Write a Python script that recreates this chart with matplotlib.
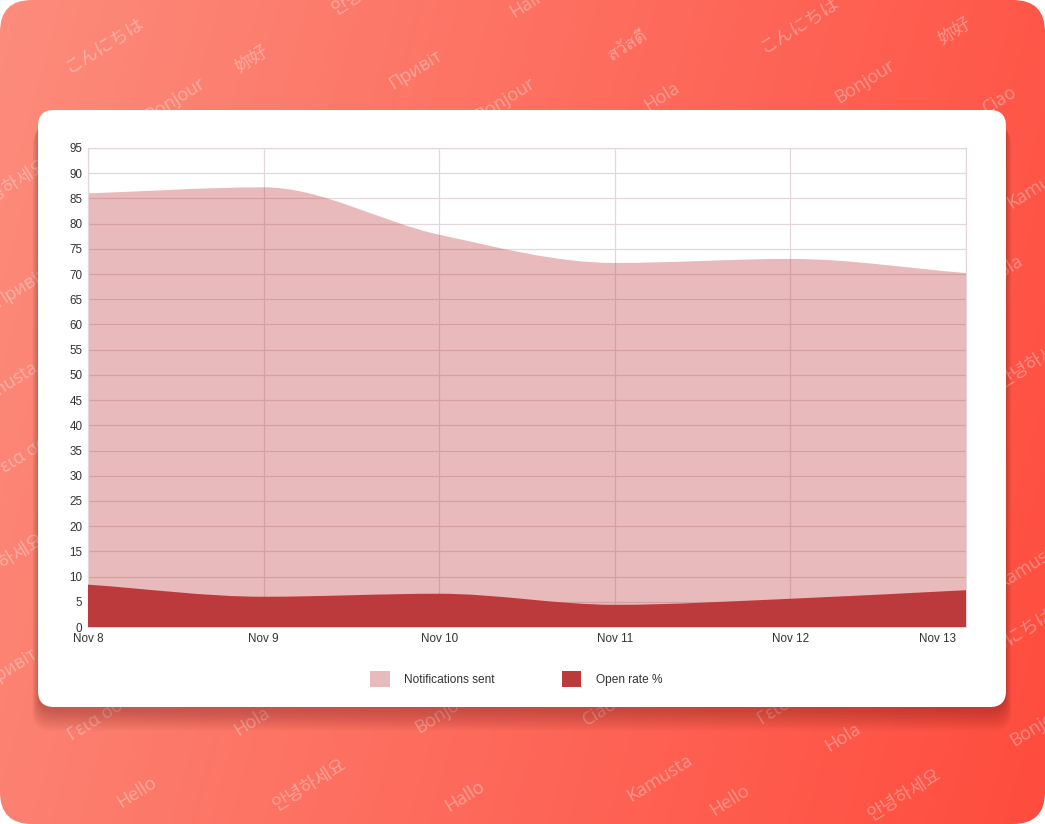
import numpy as np
import matplotlib
matplotlib.use("Agg")
import matplotlib.pyplot as plt
from matplotlib.patches import FancyBboxPatch, PathPatch, Patch
from matplotlib.path import Path
from matplotlib import font_manager
from matplotlib.ft2font import FT2Font
import matplotlib.transforms as mtransforms

# ---------------- data ----------------
dates = ["Nov 8", "Nov 9", "Nov 10", "Nov 11", "Nov 12", "Nov 13"]
notifications_sent = [86, 87.2, 77.8, 72.2, 73.0, 70.2]
open_rate = [8.4, 6.0, 6.6, 4.4, 5.6, 7.3]
y_ticks = list(range(0, 100, 5))
series_labels = ["Notifications sent", "Open rate %"]

greetings = [
    ("こんにちは", 105, 45), ("妳好", 252, 60), ("Привіт", 415, 70), ("สวัสดี", 628, 45),
    ("こんにちは", 800, 25), ("妳好", 955, 32), ("안녕", 348, 2), ("Hallo", 530, 2),
    ("Bonjour", 175, 100), ("Bonjour", 505, 100), ("Hola", 662, 97), ("Bonjour", 865, 82),
    ("Ciao", 1000, 100), ("안녕하세요", 12, 185), ("Привіт", 20, 288), ("Kamusta", 5, 385),
    ("Γεια σου", 25, 455), ("안녕하세요", 8, 560), ("Привіт", 10, 668),
    ("Kamusta", 1040, 185), ("Hola", 1005, 270), ("안녕하세요", 1035, 362),
    ("Kamusta", 1030, 565), ("こんにちは", 1015, 635), ("Bonjour", 1040, 725),
    ("Γεια σου", 100, 718), ("Hola", 252, 722), ("Bonjour", 445, 712), ("Ciao", 600, 712),
    ("Γεια σου", 790, 702), ("Hola", 843, 738), ("Hello", 137, 792), ("안녕하세요", 310, 785),
    ("Hallo", 465, 796), ("Kamusta", 660, 778), ("Hello", 730, 800), ("안녕하세요", 905, 795),
]

# find an installed family that has Thai glyphs (if any)
thai_family = None
for fe in font_manager.fontManager.ttflist:
    try:
        f = FT2Font(fe.fname)
        if all(f.get_char_index(ord(ch)) != 0 for ch in "สวัดี"):
            thai_family = fe.name
            break
    except Exception:
        pass
greet_fams = ["Open Sans", "Noto Sans CJK KR", "Noto Sans", "DejaVu Sans"]
if thai_family:
    greet_fams.insert(1, thai_family)

W, H = 1045, 824
fig = plt.figure(figsize=(W / 100, H / 100), dpi=100)
fig.patch.set_facecolor("white")

# ---------------- background ----------------
bg = fig.add_axes([0, 0, 1, 1])
bg.set_xlim(0, W)
bg.set_ylim(H, 0)
bg.axis("off")

frame = FancyBboxPatch((0, 0), W, H, boxstyle="round,pad=0,rounding_size=32",
                       transform=bg.transData, facecolor="none", edgecolor="none")
bg.add_patch(frame)
xx, yy = np.meshgrid(np.linspace(0, 1, 400), np.linspace(0, 1, 320))
t = np.clip(0.82 * xx + 0.18 * yy, 0, 1)[..., None]
c0 = np.array([252, 140, 124]) / 255
c1 = np.array([255, 76, 62]) / 255
img = c0 * (1 - t) + c1 * t
im = bg.imshow(img, extent=[0, W, H, 0], aspect="auto", zorder=0, interpolation="bilinear")
im.set_clip_path(frame)

for word, gx, gy in greetings:
    tx = bg.text(gx, gy, word, rotation=32, color="white", alpha=0.35, fontsize=13,
                 ha="center", va="center", zorder=1, family=greet_fams)
    tx.set_clip_path(frame)

# card shadow
for i in range(12):
    sh = FancyBboxPatch((38 - i * 0.5, 110 + 5 + i * 1.2), 968 + i * 1.0, 597 + i * 0.5,
                        boxstyle="round,pad=0,rounding_size=18", transform=bg.transData,
                        facecolor=(0.35, 0.08, 0.08), alpha=0.028, edgecolor="none", zorder=2)
    bg.add_patch(sh)
card = FancyBboxPatch((38, 110), 968, 597, boxstyle="round,pad=0,rounding_size=16",
                      transform=bg.transData, facecolor="white", edgecolor="none", zorder=3)
bg.add_patch(card)

# ---------------- chart ----------------
left, right, top, bottom = 88, 966, 148, 627
ax = fig.add_axes([left / W, (H - bottom) / H, (right - left) / W, (bottom - top) / H])
ax.set_facecolor("none")
x = np.arange(len(dates))
ax.set_xlim(0, len(dates) - 1)
ax.set_ylim(0, 95)


def area_path(xs, ys):
    """Monotone cubic (Fritsch-Carlson) area path, as Chart.js 'monotone' mode."""
    xs = np.asarray(xs, float)
    ys = np.asarray(ys, float)
    n = len(xs)
    dx = np.diff(xs)
    d = np.diff(ys) / dx
    m = np.zeros(n)
    m[0], m[-1] = d[0], d[-1]
    for i in range(1, n - 1):
        m[i] = 0 if d[i - 1] * d[i] <= 0 else (d[i - 1] + d[i]) / 2
    for i in range(n - 1):
        if d[i] == 0:
            m[i] = m[i + 1] = 0
            continue
        a, b = m[i] / d[i], m[i + 1] / d[i]
        s = a * a + b * b
        if s > 9:
            tau = 3 / np.sqrt(s)
            m[i], m[i + 1] = tau * a * d[i], tau * b * d[i]
    verts = [(xs[0], ys[0])]
    codes = [Path.MOVETO]
    for i in range(n - 1):
        h = dx[i] / 3
        verts += [(xs[i] + h, ys[i] + m[i] * h), (xs[i + 1] - h, ys[i + 1] - m[i + 1] * h),
                  (xs[i + 1], ys[i + 1])]
        codes += [Path.CURVE4] * 3
    verts += [(xs[-1], 0), (xs[0], 0), (xs[0], ys[0])]
    codes += [Path.LINETO, Path.LINETO, Path.CLOSEPOLY]
    return Path(verts, codes)


light = (190 / 255, 58 / 255, 60 / 255, 0.35)
dark = "#bd3a3c"
ax.add_patch(PathPatch(area_path(x, notifications_sent), facecolor=light, edgecolor="none", zorder=2))
ax.add_patch(PathPatch(area_path(x, open_rate), facecolor=dark, edgecolor="none", zorder=3))

ax.set_xticks(x)
ax.set_xticklabels(dates)
ax.set_yticks(y_ticks)
ax.grid(True, color="#e2d8db", linewidth=0.9, zorder=1)
ax.set_axisbelow(True)
for s in ax.spines.values():
    s.set_color("#e2d8db")
    s.set_linewidth(0.9)
ax.tick_params(length=0, labelsize=8.4, colors="#333333")
ax.tick_params(axis="y", pad=4)
ax.tick_params(axis="x", pad=4)
for lab in ax.get_xticklabels() + ax.get_yticklabels():
    lab.set_family("Liberation Sans")
last = ax.get_xticklabels()[-1]
last.set_horizontalalignment("right")
last.set_transform(last.get_transform() + mtransforms.ScaledTranslation(-10 / 100, 0, fig.dpi_scale_trans))

handles = [Patch(facecolor=light, edgecolor="none"), Patch(facecolor=dark, edgecolor="none")]
leg = fig.legend(handles, series_labels, loc="center", bbox_to_anchor=(516 / W, (H - 679) / H),
                 ncol=2, frameon=False, handlelength=1.65, handleheight=1.65,
                 handletextpad=1.2, columnspacing=5.6,
                 prop={"family": "Liberation Sans", "size": 8.6})
for txt in leg.get_texts():
    txt.set_color("#333333")

fig.savefig("out.png", dpi=100, facecolor="white")
